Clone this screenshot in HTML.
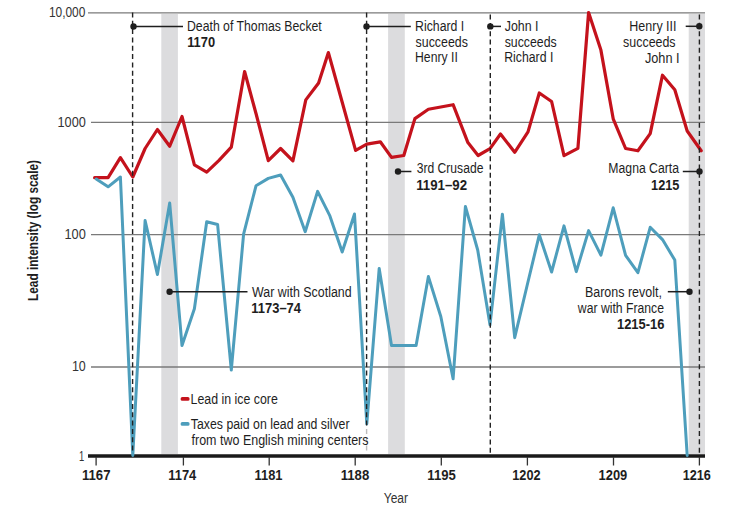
<!DOCTYPE html>
<html><head><meta charset="utf-8"><style>
html,body{margin:0;padding:0;background:#fff;width:751px;height:515px;overflow:hidden}
svg{display:block}
text{font-family:"Liberation Sans", sans-serif}
</style></head><body>
<svg width="751" height="515" viewBox="0 0 751 515" font-family='"Liberation Sans", sans-serif'><rect x="161.3" y="14" width="16.6" height="440" fill="#dcdcde"/>
<rect x="388.1" y="14" width="16.7" height="440" fill="#dcdcde"/>
<rect x="688.7" y="14" width="16.3" height="440" fill="#dcdcde"/>
<line x1="88" y1="12.9" x2="705" y2="12.9" stroke="#7a7a7a" stroke-width="1.4"/>
<line x1="91" y1="122.4" x2="705" y2="122.4" stroke="#7a7a7a" stroke-width="1.4"/>
<line x1="91" y1="234.6" x2="705" y2="234.6" stroke="#7a7a7a" stroke-width="1.4"/>
<line x1="91" y1="367" x2="705" y2="367" stroke="#7a7a7a" stroke-width="1.4"/>
<text x="48.91" y="17.3" font-size="14" text-anchor="start" fill="#333" textLength="36.45" lengthAdjust="spacingAndGlyphs">10,000</text>
<text x="57.49" y="126.8" font-size="14" text-anchor="start" fill="#333" textLength="28.32" lengthAdjust="spacingAndGlyphs">1000</text>
<text x="64.48" y="239" font-size="14" text-anchor="start" fill="#333" textLength="21.36" lengthAdjust="spacingAndGlyphs">100</text>
<text x="71.89" y="371" font-size="14" text-anchor="start" fill="#333" textLength="13.91" lengthAdjust="spacingAndGlyphs">10</text>
<text x="79.09" y="461" font-size="14" text-anchor="start" fill="#333" textLength="5.24" lengthAdjust="spacingAndGlyphs">1</text>
<line x1="88" y1="456" x2="705" y2="456" stroke="#1a1a1a" stroke-width="3.6"/>
<line x1="96.1" y1="457" x2="96.1" y2="465.5" stroke="#333" stroke-width="1.3"/>
<text x="81.95" y="479.8" font-size="14" font-weight="bold" text-anchor="start" fill="#1e1e1e" textLength="28.54" lengthAdjust="spacingAndGlyphs">1167</text>
<line x1="183.4" y1="457" x2="183.4" y2="465.5" stroke="#333" stroke-width="1.3"/>
<text x="168.26" y="479.8" font-size="14" font-weight="bold" text-anchor="start" fill="#1e1e1e" textLength="28.03" lengthAdjust="spacingAndGlyphs">1174</text>
<line x1="269.2" y1="457" x2="269.2" y2="465.5" stroke="#333" stroke-width="1.3"/>
<text x="254.55" y="479.8" font-size="14" font-weight="bold" text-anchor="start" fill="#1e1e1e" textLength="27.99" lengthAdjust="spacingAndGlyphs">1181</text>
<line x1="355.2" y1="457" x2="355.2" y2="465.5" stroke="#333" stroke-width="1.3"/>
<text x="340.65" y="479.8" font-size="14" font-weight="bold" text-anchor="start" fill="#1e1e1e" textLength="28.56" lengthAdjust="spacingAndGlyphs">1188</text>
<line x1="441.3" y1="457" x2="441.3" y2="465.5" stroke="#333" stroke-width="1.3"/>
<text x="427.35" y="479.8" font-size="14" font-weight="bold" text-anchor="start" fill="#1e1e1e" textLength="28.52" lengthAdjust="spacingAndGlyphs">1195</text>
<line x1="527.4" y1="457" x2="527.4" y2="465.5" stroke="#333" stroke-width="1.3"/>
<text x="512.26" y="479.8" font-size="14" font-weight="bold" text-anchor="start" fill="#1e1e1e" textLength="28.26" lengthAdjust="spacingAndGlyphs">1202</text>
<line x1="613.5" y1="457" x2="613.5" y2="465.5" stroke="#333" stroke-width="1.3"/>
<text x="598.55" y="479.8" font-size="14" font-weight="bold" text-anchor="start" fill="#1e1e1e" textLength="28.74" lengthAdjust="spacingAndGlyphs">1209</text>
<line x1="699.4" y1="457" x2="699.4" y2="465.5" stroke="#333" stroke-width="1.3"/>
<text x="682.76" y="479.8" font-size="14" font-weight="bold" text-anchor="start" fill="#1e1e1e" textLength="28.16" lengthAdjust="spacingAndGlyphs">1216</text>
<text x="383.72" y="502.7" font-size="14" text-anchor="start" fill="#333" textLength="24.29" lengthAdjust="spacingAndGlyphs">Year</text>
<text transform="translate(38.3,230.5) rotate(-90)" font-size="14" font-weight="bold" text-anchor="middle" fill="#1e1e1e" textLength="140.8" lengthAdjust="spacingAndGlyphs">Lead intensity (log scale)</text>
<polyline points="94.6,177.7 108.1,177.7 120.4,157.7 132.8,177.0 145.1,148.5 157.4,129.5 169.7,146.2 182.0,116.5 194.4,164.8 206.7,172.1 219.0,160.4 231.3,147.2 244.6,71.5 256.0,113.5 268.3,160.7 280.6,148.5 292.9,160.8 305.8,99.9 318.6,83.0 328.4,52.6 342.0,101.5 355.6,150.4 366.8,144.1 380.3,141.8 391.5,157.4 403.8,155.5 414.9,118.6 428.4,109.3 440.8,107.0 453.1,104.7 467.9,142.6 478.1,155.5 490.0,148.6 500.5,134.0 514.7,152.3 528.0,131.9 539.3,93.0 551.6,101.5 564.0,155.6 577.9,148.4 588.6,12.5 600.9,50.1 613.2,118.8 625.6,148.5 637.9,150.8 650.2,133.6 662.5,75.2 674.8,89.7 687.2,131.0 701.2,150.7" fill="none" stroke="#c4121c" stroke-width="3.2" stroke-linejoin="round" stroke-linecap="round"/>
<polyline points="96.2,179.0 108.1,186.8 120.4,177.0 132.8,455.5 145.1,220.5 157.4,274.5 169.7,203.1 182.0,345.6 194.4,308.8 206.7,221.7 217.6,224.5 231.3,370.0 243.6,234.2 256.0,185.8 268.3,178.4 280.6,175.0 292.9,197.3 305.2,231.7 317.6,191.4 329.9,215.9 342.2,252.0 354.5,214.0 366.8,423.8 379.2,268.4 391.5,345.4 403.8,345.4 416.1,345.4 428.4,276.6 440.8,316.5 453.1,378.8 465.4,206.5 477.7,250.0 490.0,324.8 502.4,214.2 514.7,337.7 527.0,286.0 539.3,234.8 551.6,272.0 564.0,225.9 576.3,271.6 588.6,230.6 600.9,255.1 613.2,207.8 625.6,255.3 637.9,272.7 650.2,227.3 662.5,239.6 674.8,260.1 687.2,455.5" fill="none" stroke="#4e9ebc" stroke-width="3" stroke-linejoin="round" stroke-linecap="round"/>
<line x1="132.6" y1="12.4" x2="132.6" y2="454" stroke="#222" stroke-width="1.4" stroke-dasharray="5,3.33"/>
<line x1="366.6" y1="12.4" x2="366.6" y2="454" stroke="#222" stroke-width="1.4" stroke-dasharray="5,3.33"/>
<line x1="490.3" y1="14.6" x2="490.3" y2="454" stroke="#222" stroke-width="1.4" stroke-dasharray="5,3.33"/>
<line x1="699.4" y1="14.5" x2="699.4" y2="454" stroke="#222" stroke-width="1.4" stroke-dasharray="5,3.33"/>
<rect x="362" y="427.5" width="8" height="25" fill="#fff" fill-opacity="0.7"/>
<line x1="133.5" y1="26.5" x2="183" y2="26.5" stroke="#1e1e1e" stroke-width="1.5"/>
<circle cx="133.5" cy="26.5" r="3.2" fill="#1e1e1e"/>
<line x1="366.5" y1="26.4" x2="410.8" y2="26.4" stroke="#1e1e1e" stroke-width="1.5"/>
<circle cx="366.5" cy="26.4" r="3.2" fill="#1e1e1e"/>
<line x1="490.3" y1="26.4" x2="501" y2="26.4" stroke="#1e1e1e" stroke-width="1.5"/>
<circle cx="490.3" cy="26.4" r="3.2" fill="#1e1e1e"/>
<line x1="699.3" y1="26.3" x2="685.7" y2="26.3" stroke="#1e1e1e" stroke-width="1.5"/>
<circle cx="699.3" cy="26.3" r="3.2" fill="#1e1e1e"/>
<line x1="398.0" y1="171.5" x2="411.4" y2="171.5" stroke="#1e1e1e" stroke-width="1.5"/>
<circle cx="398.0" cy="171.5" r="3.2" fill="#1e1e1e"/>
<line x1="699.5" y1="171.5" x2="682.8" y2="171.5" stroke="#1e1e1e" stroke-width="1.5"/>
<circle cx="699.5" cy="171.5" r="3.2" fill="#1e1e1e"/>
<line x1="169.6" y1="291.7" x2="247.5" y2="291.7" stroke="#1e1e1e" stroke-width="1.5"/>
<circle cx="169.6" cy="291.7" r="3.2" fill="#1e1e1e"/>
<line x1="689.5" y1="291.7" x2="667.8" y2="291.7" stroke="#1e1e1e" stroke-width="1.5"/>
<circle cx="689.5" cy="291.7" r="3.2" fill="#1e1e1e"/>
<text x="186.97" y="30.7" font-size="14" text-anchor="start" fill="#1e1e1e" textLength="134.78" lengthAdjust="spacingAndGlyphs">Death of Thomas Becket</text>
<text x="187.14" y="46.6" font-size="14" font-weight="bold" text-anchor="start" fill="#1e1e1e" textLength="27.92" lengthAdjust="spacingAndGlyphs">1170</text>
<text x="415.06" y="30.8" font-size="14" text-anchor="start" fill="#1e1e1e" textLength="49.22" lengthAdjust="spacingAndGlyphs">Richard I</text>
<text x="415.61" y="46.5" font-size="14" text-anchor="start" fill="#1e1e1e" textLength="52.26" lengthAdjust="spacingAndGlyphs">succeeds</text>
<text x="415.06" y="62.4" font-size="14" text-anchor="start" fill="#1e1e1e" textLength="42.73" lengthAdjust="spacingAndGlyphs">Henry II</text>
<text x="504.81" y="30.7" font-size="14" text-anchor="start" fill="#1e1e1e" textLength="33.71" lengthAdjust="spacingAndGlyphs">John I</text>
<text x="504.71" y="46.5" font-size="14" text-anchor="start" fill="#1e1e1e" textLength="51.95" lengthAdjust="spacingAndGlyphs">succeeds</text>
<text x="504.16" y="62.4" font-size="14" text-anchor="start" fill="#1e1e1e" textLength="49.14" lengthAdjust="spacingAndGlyphs">Richard I</text>
<text x="629.34" y="31" font-size="14" text-anchor="start" fill="#1e1e1e" textLength="47.16" lengthAdjust="spacingAndGlyphs">Henry III</text>
<text x="623.11" y="46.8" font-size="14" text-anchor="start" fill="#1e1e1e" textLength="52.46" lengthAdjust="spacingAndGlyphs">succeeds</text>
<text x="644.91" y="62.6" font-size="14" text-anchor="start" fill="#1e1e1e" textLength="34.65" lengthAdjust="spacingAndGlyphs">John I</text>
<text x="416.66" y="173.2" font-size="14" text-anchor="start" fill="#1e1e1e" textLength="66.75" lengthAdjust="spacingAndGlyphs">3rd Crusade</text>
<text x="416.24" y="189.6" font-size="14" font-weight="bold" text-anchor="start" fill="#1e1e1e" textLength="50.84" lengthAdjust="spacingAndGlyphs">1191–92</text>
<text x="608.36" y="173.4" font-size="14" text-anchor="start" fill="#1e1e1e" textLength="70.64" lengthAdjust="spacingAndGlyphs">Magna Carta</text>
<text x="651.07" y="189.5" font-size="14" font-weight="bold" text-anchor="start" fill="#1e1e1e" textLength="28.42" lengthAdjust="spacingAndGlyphs">1215</text>
<text x="252.12" y="296.8" font-size="14" text-anchor="start" fill="#1e1e1e" textLength="99.51" lengthAdjust="spacingAndGlyphs">War with Scotland</text>
<text x="251.35" y="312.8" font-size="14" font-weight="bold" text-anchor="start" fill="#1e1e1e" textLength="49.68" lengthAdjust="spacingAndGlyphs">1173–74</text>
<text x="584.95" y="296.8" font-size="14" text-anchor="start" fill="#1e1e1e" textLength="76.99" lengthAdjust="spacingAndGlyphs">Barons revolt,</text>
<text x="577.83" y="312.9" font-size="14" text-anchor="start" fill="#1e1e1e" textLength="86.19" lengthAdjust="spacingAndGlyphs">war with France</text>
<text x="616.96" y="328.8" font-size="14" font-weight="bold" text-anchor="start" fill="#1e1e1e" textLength="47.45" lengthAdjust="spacingAndGlyphs">1215-16</text>
<line x1="182.4" y1="398.9" x2="187.8" y2="398.9" stroke="#c4121c" stroke-width="3.7" stroke-linecap="round"/>
<line x1="182.4" y1="423.9" x2="187.8" y2="423.9" stroke="#4e9ebc" stroke-width="3.7" stroke-linecap="round"/>
<text x="190.56" y="403.8" font-size="14" text-anchor="start" fill="#1e1e1e" textLength="87.3" lengthAdjust="spacingAndGlyphs">Lead in ice core</text>
<text x="190.87" y="429" font-size="14" text-anchor="start" fill="#1e1e1e" textLength="158.71" lengthAdjust="spacingAndGlyphs">Taxes paid on lead and silver</text>
<text x="191.55" y="444.9" font-size="14" text-anchor="start" fill="#1e1e1e" textLength="176.93" lengthAdjust="spacingAndGlyphs">from two English mining centers</text></svg>
</body></html>
